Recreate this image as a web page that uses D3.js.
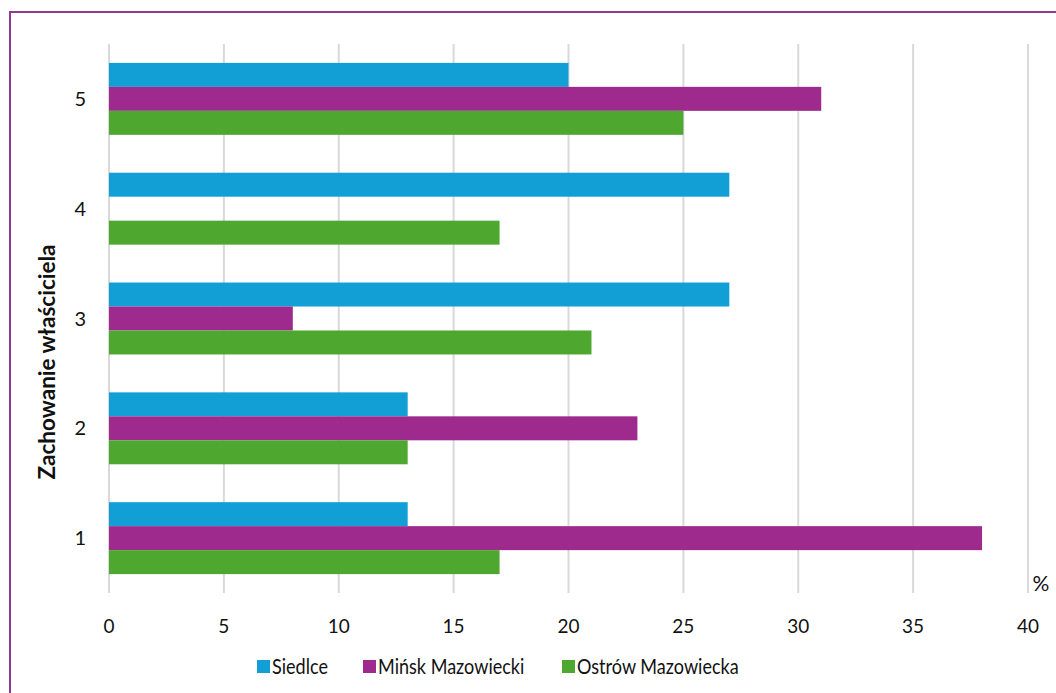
<!DOCTYPE html>
<html><head><meta charset="utf-8">
<script src="https://cdn.jsdelivr.net/npm/d3@7"></script>
<style>body{margin:0;background:#fff}svg{display:block}text{font-family:Lato,"Open Sans",sans-serif}</style>
</head><body>
<svg id="c" width="1056" height="693"></svg>
<script>
const categories = ["1","2","3","4","5"];
const seriesNames = ["Siedlce","Mińsk Mazowiecki","Ostrów Mazowiecka"];
const siedlce = [13,13,27,27,20];
const minsk = [38,23,8,0,31];
const ostrow = [17,13,21,17,25];
const xTicks = [0,5,10,15,20,25,30,35,40];
const colors = ["#119fd6","#9e2a8e","#4ea72e"];
const seriesValues = [siedlce, minsk, ostrow];

const svg = d3.select("#c");
svg.append("rect").attr("x",10).attr("y",12).attr("width",1060).attr("height",700)
  .attr("fill","none").attr("stroke","#8e3a8e").attr("stroke-width",2);

const x = d3.scaleLinear().domain([0,40]).range([109,1028]);
const y = d3.scaleBand().domain(categories.slice().reverse()).range([44,593]).paddingInner(0.345).paddingOuter(0.172);
const y1 = d3.scaleBand().domain(seriesNames).range([0,y.bandwidth()]);

// gridlines
svg.append("g").selectAll("line").data(xTicks).join("line")
  .attr("x1",d=>x(d)).attr("x2",d=>x(d)).attr("y1",44).attr("y2",593)
  .attr("stroke","#d9d9d9").attr("stroke-width",2);

// bars
const rows = categories.map((c,i)=>({c, vals: seriesNames.map((s,j)=>({s, v: seriesValues[j][i], j}))}));
svg.append("g").selectAll("g").data(rows).join("g")
  .attr("transform",d=>`translate(0,${y(d.c)})`)
  .selectAll("rect").data(d=>d.vals.filter(v=>v.v>0)).join("rect")
  .attr("x",x(0)).attr("y",d=>y1(d.s)).attr("height",y1.bandwidth())
  .attr("width",d=>x(d.v)-x(0)).attr("fill",d=>colors[d.j]);

// x tick labels
svg.append("g").selectAll("text").data(xTicks).join("text")
  .attr("transform",d=>`translate(${x(d)},633) scale(0.95,1)`).attr("text-anchor","middle")
  .attr("font-size",20).attr("fill","#111").text(d=>d);

// y labels
svg.append("g").selectAll("text").data(categories).join("text")
  .attr("x",86).attr("y",d=>y(d)+y.bandwidth()/2+7).attr("text-anchor","end")
  .attr("font-size",20).attr("fill","#111").text(d=>d);

// y title
svg.append("text").attr("transform","translate(55,362) rotate(-90)")
  .attr("text-anchor","middle").attr("font-size",22.5).attr("font-weight","bold")
  .attr("fill","#111").text("Zachowanie właściciela");

// %
svg.append("text").attr("x",1041).attr("y",591).attr("text-anchor","middle")
  .attr("font-size",21).attr("fill","#111").text("%");

// legend
const legX = [257,363,562];
const lg = svg.append("g").selectAll("g").data(seriesNames).join("g")
  .attr("transform",(d,i)=>`translate(${legX[i]},660)`);
lg.append("rect").attr("width",13).attr("height",13).attr("fill",(d,i)=>colors[i]);
lg.append("text").attr("transform","translate(15,14) scale(0.86,1)").attr("font-size",21)
  .attr("fill","#111").text(d=>d);
</script>
</body></html>
